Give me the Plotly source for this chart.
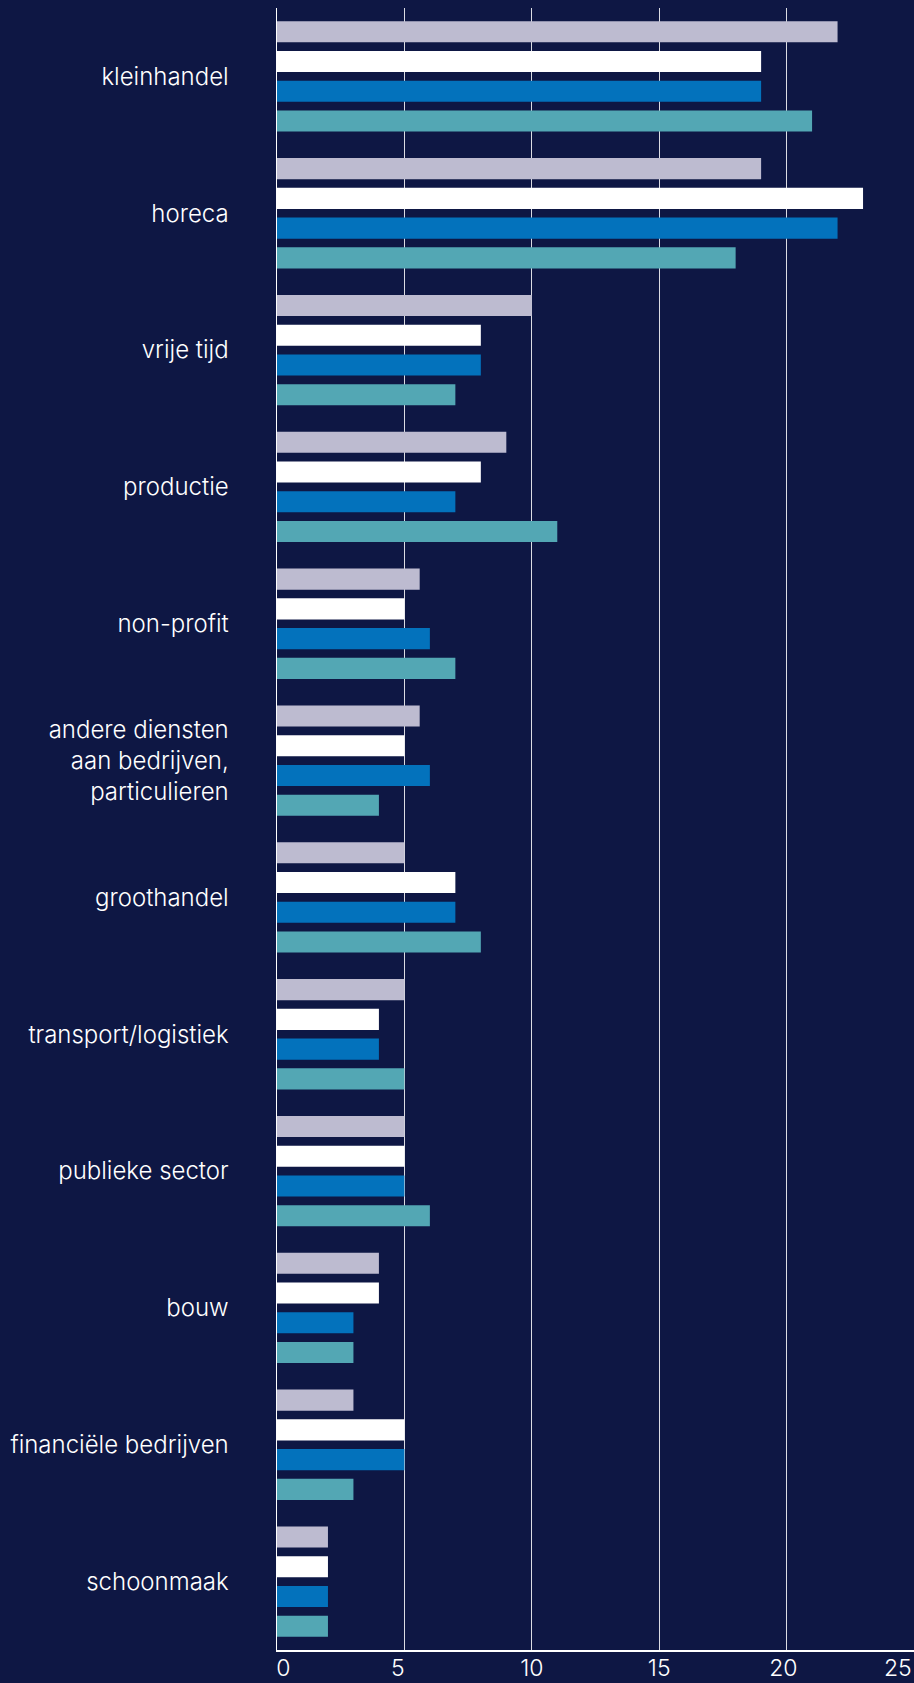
import plotly.graph_objects as go

categories = [
    "kleinhandel", "horeca", "vrije tijd", "productie", "non-profit",
    "andere diensten<br>aan bedrijven,<br>particulieren", "groothandel",
    "transport/logistiek", "publieke sector", "bouw",
    "financiële bedrijven", "schoonmaak",
]
series_grey = [22, 19, 10, 9, 5.6, 5.6, 5, 5, 5, 4, 3, 2]
series_white = [19, 23, 8, 8, 5, 5, 7, 4, 5, 4, 5, 2]
series_blue = [19, 22, 8, 7, 6, 6, 7, 4, 5, 3, 5, 2]
series_teal = [21, 18, 7, 11, 7, 4, 8, 5, 6, 3, 3, 2]
x_ticks = [0, 5, 10, 15, 20, 25]
NB = "\u00a0"
x_ticktext = [NB * 2 + "0", "5" + NB * 2, "10", "15", "20" + NB, "25" + NB * 5]

BG = "#0E1744"
colors = ["#BDBBD0", "#FFFFFF", "#0372BC", "#53A7B4"]
series = [series_grey, series_white, series_blue, series_teal]

fig = go.Figure()
for vals, col in zip(series, colors):
    fig.add_trace(go.Bar(
        y=categories, x=vals, orientation="h",
        marker=dict(color=col, line=dict(width=0)),
        showlegend=False, hoverinfo="skip",
    ))

fig.update_layout(
    width=914, height=1683,
    paper_bgcolor=BG, plot_bgcolor=BG,
    margin=dict(l=277, r=0, t=8, b=33, autoexpand=False),
    barmode="group", bargap=0.13, bargroupgap=0.29,
    font=dict(family="Inter", color="#FFFFFF", size=24, weight=300),
    xaxis=dict(
        range=[0, 25], tickvals=x_ticks, ticktext=x_ticktext,
        showgrid=True, gridcolor="rgba(255,255,255,0.85)", gridwidth=1,
        zeroline=False, showline=True, linecolor="#FFFFFF", linewidth=1.5,
        tickfont=dict(size=23, color="#FFFFFF"), ticks="",
        ticklabelstandoff=-3,
        ticklabeloverflow="allow", automargin=False, layer="below traces",
    ),
    yaxis=dict(
        autorange="reversed", showgrid=False, zeroline=False,
        showline=True, linecolor="#FFFFFF", linewidth=1.5,
        ticks="", ticklabelstandoff=42, automargin=False,
        tickfont=dict(size=24, color="#FFFFFF"),
    ),
)

fig.write_html(
    "out.html",
    config={"displayModeBar": False, "staticPlot": True},
    post_script="document.body.style.margin='0';document.body.style.overflow='hidden';",
)
